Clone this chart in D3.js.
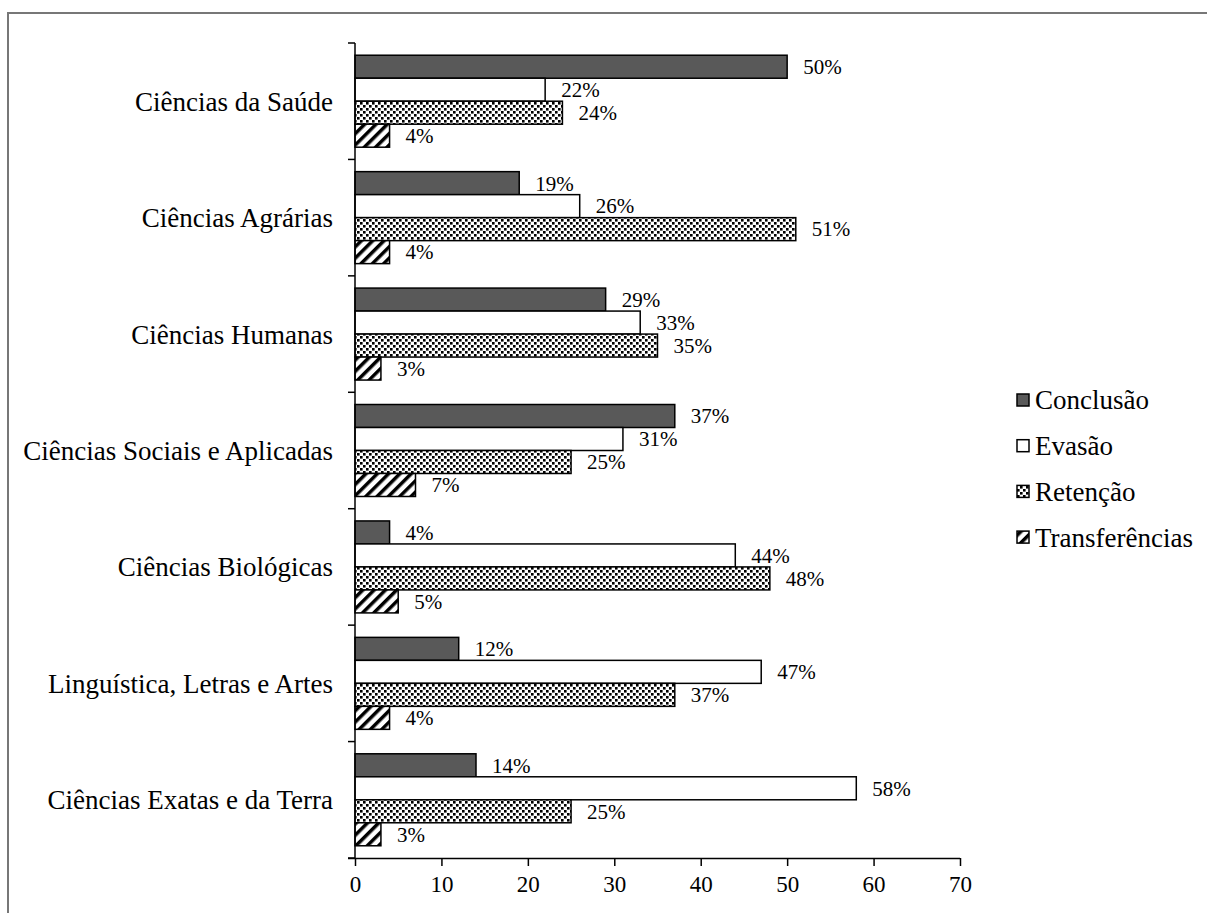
<!DOCTYPE html>
<html><head><meta charset="utf-8">
<script src="https://cdn.jsdelivr.net/npm/d3@7"></script>
<style>body{margin:0;background:#fff}svg{display:block}text{font-family:"Liberation Serif","Times New Roman",serif;fill:#000}</style>
</head><body>
<svg id="c" width="1207" height="913"></svg>
<script>
const categories = ["Ciências da Saúde","Ciências Agrárias","Ciências Humanas","Ciências Sociais e Aplicadas","Ciências Biológicas","Linguística, Letras e Artes","Ciências Exatas e da Terra"];
const seriesNames = ["Conclusão","Evasão","Retenção","Transferências"];
const conclusao = [50,19,29,37,4,12,14];
const evasao = [22,26,33,31,44,47,58];
const retencao = [24,51,35,25,48,37,25];
const transferencias = [4,4,3,7,5,4,3];
const xTicks = [0,10,20,30,40,50,60,70];
const seriesValues = [conclusao, evasao, retencao, transferencias];

const svg = d3.select("#c");
const defs = svg.append("defs");
const pd = defs.append("pattern").attr("id","dots").attr("patternUnits","userSpaceOnUse").attr("width",6).attr("height",6);
pd.append("rect").attr("width",6).attr("height",6).attr("fill","#fff");
pd.append("rect").attr("x",0).attr("y",0).attr("width",2.6).attr("height",2.6).attr("fill","#000");
pd.append("rect").attr("x",3).attr("y",3).attr("width",2.6).attr("height",2.6).attr("fill","#000");
const ps = defs.append("pattern").attr("id","stripes").attr("patternUnits","userSpaceOnUse").attr("width",8).attr("height",8).attr("patternTransform","rotate(45)");
ps.append("rect").attr("width",8).attr("height",8).attr("fill","#fff");
ps.append("rect").attr("x",0).attr("y",0).attr("width",3.5).attr("height",8).attr("fill","#000");
const fills = ["#595959","#ffffff","url(#dots)","url(#stripes)"];

svg.append("path").attr("d","M8,913 V13 H1207").attr("fill","none").attr("stroke","#777").attr("stroke-width",2);

const x = d3.scaleLinear().domain([0,70]).range([355,960]);
const y = d3.scaleBand().domain(categories).range([43,858]).padding(0);
const bw = y.bandwidth();
const yi = d3.scaleBand().domain(seriesNames).range([bw*0.105, bw*0.895]).padding(0);

const g = svg.append("g");
categories.forEach((c,ci)=>{
  seriesNames.forEach((s,si)=>{
    const v = seriesValues[si][ci];
    const y0 = y(c)+yi(s);
    g.append("rect").attr("x",x(0)).attr("y",y0).attr("width",x(v)-x(0)).attr("height",yi.bandwidth())
      .attr("fill",fills[si]).attr("stroke","#000").attr("stroke-width",1.5);
    g.append("text").attr("x",x(v)+16).attr("y",y0+yi.bandwidth()/2).attr("dy","0.35em")
      .attr("font-size",21).text(v+"%");
  });
});

const ya = svg.append("g");
ya.append("line").attr("x1",355).attr("x2",355).attr("y1",43).attr("y2",858).attr("stroke","#000").attr("stroke-width",1.5);
categories.concat(["_end"]).forEach((c,i)=>{
  const yy = i<categories.length ? y(c) : 858;
  ya.append("line").attr("x1",348).attr("x2",355).attr("y1",yy).attr("y2",yy).attr("stroke","#000").attr("stroke-width",1.5);
});
categories.forEach(c=>{
  ya.append("text").attr("x",333).attr("y",y(c)+bw/2).attr("dy","0.35em").attr("text-anchor","end").attr("font-size",27).text(c);
});

const xa = svg.append("g").attr("transform","translate(0,858)")
  .call(d3.axisBottom(x).tickValues(xTicks).tickSize(8).tickSizeOuter(0).tickPadding(10));
xa.select(".domain").attr("stroke","#000").attr("stroke-width",1.5).attr("d","M348,0.5H960");
xa.selectAll(".tick line").attr("stroke","#000").attr("stroke-width",1.5);
xa.selectAll(".tick text").attr("font-size",23).attr("font-family","'Liberation Serif',serif").attr("fill","#000");

const lg = svg.append("g");
seriesNames.forEach((s,i)=>{
  const cy = 400 + i*45.7;
  lg.append("rect").attr("x",1017).attr("y",cy-6).attr("width",12).attr("height",12)
    .attr("fill", fills[i]).attr("stroke","#000").attr("stroke-width",1.5);
  lg.append("text").attr("x",1035).attr("y",cy).attr("dy","0.35em").attr("font-size",27).text(s);
});
</script>
</body></html>
